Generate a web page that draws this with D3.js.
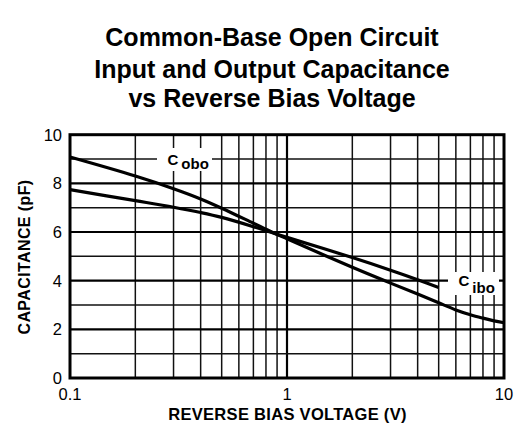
<!DOCTYPE html>
<html>
<head>
<meta charset="utf-8">
<script src="https://cdn.jsdelivr.net/npm/d3@7"></script>
<style>
  body { margin: 0; background: #fff; }
  text { font-family: "Liberation Sans", Arial, sans-serif; fill: #000; }
</style>
</head>
<body>
<div id="chart"></div>
<script>
// capacitance curves
var voltsObo = [0.1, 0.2, 0.3, 0.4, 0.5, 0.7, 0.85, 1, 2, 3, 4, 5, 6, 7, 8, 9, 10];
var capObo   = [9.08, 8.3, 7.78, 7.36, 6.98, 6.36, 6.0, 5.72, 4.55, 3.9, 3.45, 3.09, 2.8, 2.6, 2.46, 2.35, 2.27];
var voltsIbo = [0.1, 0.2, 0.3, 0.4, 0.5, 0.7, 0.85, 1, 2, 3, 4, 5];
var capIbo   = [7.74, 7.29, 7.02, 6.8, 6.6, 6.22, 5.98, 5.78, 4.95, 4.43, 4.04, 3.72];

var xTicks = [0.1, 1, 10];
var yTicks = [0, 2, 4, 6, 8, 10];
var titleLines = ["Common-Base Open Circuit", "Input and Output Capacitance", "vs Reverse Bias Voltage"];

var width = 518, height = 427;
var plot = {left: 70, right: 504, top: 134.7, bottom: 378};

var svg = d3.select("#chart").append("svg")
  .attr("width", width)
  .attr("height", height);

var x = d3.scaleLog().domain([0.1, 10]).range([plot.left, plot.right]);
var y = d3.scaleLinear().domain([0, 10]).range([plot.bottom, plot.top]);

//****** title
svg.append("g").selectAll("text")
  .data(titleLines).enter()
  .append("text")
    .attr("x", 272)
    .attr("y", function(d, i) { return [46, 77.5, 107][i]; })
    .attr("text-anchor", "middle")
    .style("font-size", "25px")
    .style("font-weight", "bold")
    .text(function(d) { return d; });

//****** grid
var minorX = [];
[0.1, 1].forEach(function(dec) {
  for (var k = 2; k <= 9; k++) minorX.push(dec * k);
});
var grid = svg.append("g");

grid.selectAll(".vminor")
  .data(minorX).enter()
  .append("line")
    .attr("x1", function(d) { return x(d); })
    .attr("x2", function(d) { return x(d); })
    .attr("y1", plot.top).attr("y2", plot.bottom)
    .attr("stroke", "#111").attr("stroke-width", 1.5);

grid.append("line")
  .attr("x1", x(1)).attr("x2", x(1))
  .attr("y1", plot.top).attr("y2", plot.bottom)
  .attr("stroke", "#000").attr("stroke-width", 2.2);

grid.selectAll(".h")
  .data(d3.range(1, 10)).enter()
  .append("line")
    .attr("x1", plot.left).attr("x2", plot.right)
    .attr("y1", function(d) { return y(d); })
    .attr("y2", function(d) { return y(d); })
    .attr("stroke", function(d) { return d % 2 ? "#111" : "#000"; })
    .attr("stroke-width", function(d) { return d % 2 ? 1.5 : 2.2; });

//****** curve labels with white boxes over the grid
function curveLabel(box, cx, cy, sub, subDy) {
  svg.append("rect")
    .attr("x", box[0]).attr("y", box[1])
    .attr("width", box[2]).attr("height", box[3])
    .attr("fill", "#fff");
  var t = svg.append("text")
    .attr("x", cx).attr("y", cy)
    .style("font-size", "15px")
    .style("font-weight", "bold");
  t.append("tspan").text("C");
  t.append("tspan").attr("dx", 3).attr("dy", subDy).text(sub);
}
curveLabel([157, 148, 55, 23], 167.5, 165, "obo", 4.3);
curveLabel([448, 272, 51, 23], 458.5, 285.7, "ibo", 7);

//****** curves
var line = d3.line()
  .x(function(d) { return x(d[0]); })
  .y(function(d) { return y(d[1]); })
  .curve(d3.curveCatmullRom.alpha(0.5));

svg.append("path")
  .datum(d3.zip(voltsObo, capObo))
  .attr("d", line)
  .attr("fill", "none").attr("stroke", "#000").attr("stroke-width", 3.2);

svg.append("path")
  .datum(d3.zip(voltsIbo, capIbo))
  .attr("d", line)
  .attr("fill", "none").attr("stroke", "#000").attr("stroke-width", 3.2);

//****** frame
svg.append("rect")
  .attr("x", plot.left).attr("y", plot.top)
  .attr("width", plot.right - plot.left)
  .attr("height", plot.bottom - plot.top)
  .attr("fill", "none").attr("stroke", "#000").attr("stroke-width", 3);

//****** axes labels
svg.append("g").selectAll("text")
  .data(yTicks).enter()
  .append("text")
    .attr("x", 62)
    .attr("y", function(d) { return y(d) + 6; })
    .attr("text-anchor", "end")
    .style("font-size", "16.5px")
    .text(function(d) { return d; });

svg.append("g").selectAll("text")
  .data(xTicks).enter()
  .append("text")
    .attr("x", function(d) { return x(d); })
    .attr("y", 400)
    .attr("text-anchor", "middle")
    .style("font-size", "16.5px")
    .text(function(d) { return d; });

svg.append("text")
  .attr("x", (166.7 + 408.3) / 2)
  .attr("y", 420)
  .attr("text-anchor", "middle")
  .style("font-size", "16.5px")
  .style("font-weight", "bold")
  .style("letter-spacing", "0.3px")
  .text("REVERSE BIAS VOLTAGE (V)");

svg.append("text")
  .attr("transform", "translate(29.5,257) rotate(-90)")
  .attr("text-anchor", "middle")
  .style("font-size", "16px")
  .style("font-weight", "bold")
  .style("letter-spacing", "0.4px")
  .text("CAPACITANCE (pF)");
</script>
</body>
</html>
